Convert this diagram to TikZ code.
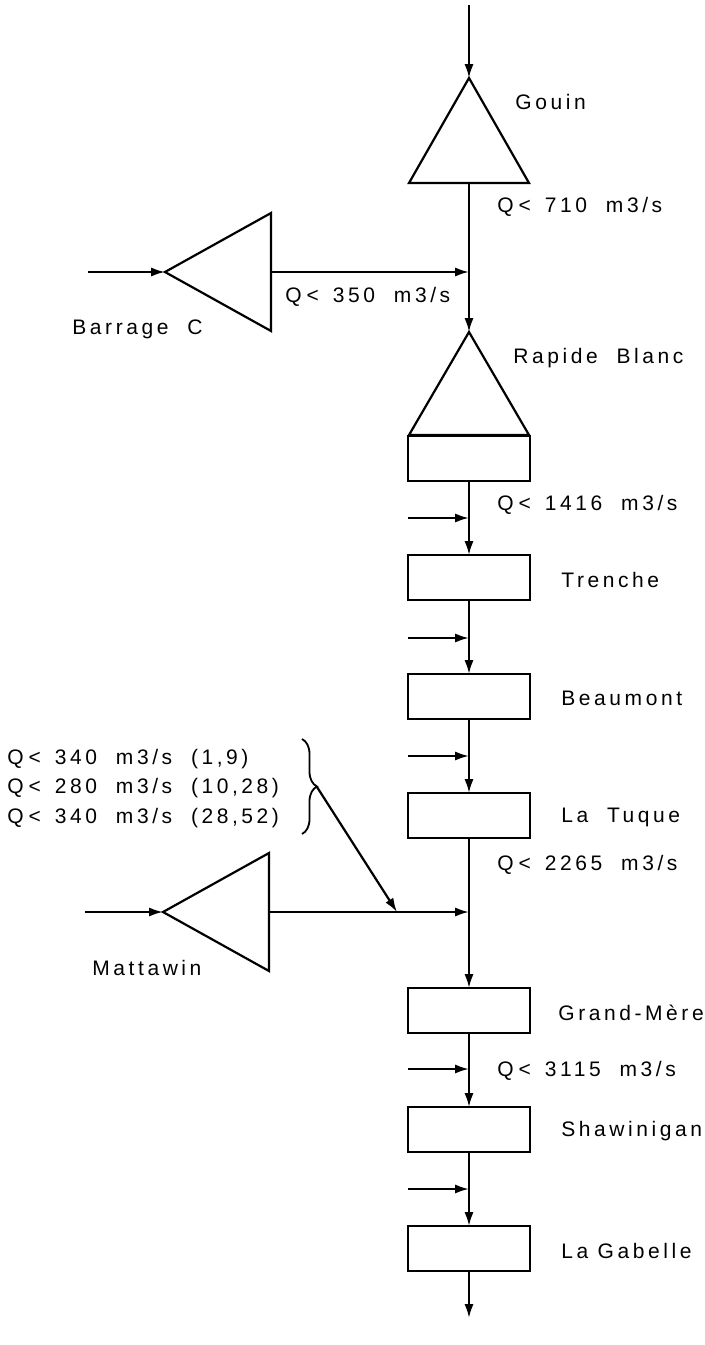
\documentclass[tikz,border=0pt]{standalone}
\usepackage{fontspec}
\setmainfont[LetterSpace=17]{Liberation Sans}
\usetikzlibrary{shapes.geometric, arrows.meta, positioning, decorations.pathreplacing}
\newcommand{\Qmax}{Q\hspace{2.5pt}<\hspace{7pt}}

\begin{document}
\begin{tikzpicture} [
    x=0.5pt, y=-0.5pt,
    node distance=37pt,
    centrale/.style={rectangle, draw=black, line width=1.2pt, minimum width=61pt, minimum height=22.5pt, inner sep=0pt, outer sep=0pt},
    reservoir/.style={isosceles triangle, isosceles triangle stretches, draw=black, line width=1.1pt, minimum width=59pt, minimum height=53pt, inner sep=0pt, outer sep=0pt, anchor=apex},
    nom/.style={font=\fontsize{10.5}{12}\selectfont, inner sep=0pt, anchor=west, yshift=-1pt},
    arrow/.style={-{Latex[length=7pt, width=4.6pt]}, line width=1.1pt}
]
\useasboundingbox (0,0) rectangle (705,1345);

% Define all nodes first
\node[reservoir, shape border rotate=90, minimum width=60pt, minimum height=52.5pt] (gouin) at (469,78) {};
\node[reservoir, shape border rotate=90, minimum width=60pt, minimum height=51.5pt] (rapide) at (469,332) {};
\node[centrale] (blanc) at (469,458.5) {};
\node[centrale, below=of blanc] (trenche) {};
\node[centrale, below=of trenche] (beaumont) {};
\node[centrale, below=of beaumont] (tuque) {};
\node[centrale, below=75pt of tuque] (grandmere) {};
\node[centrale, below=of grandmere] (shawinigan) {};
\node[centrale, below=of shawinigan] (gabelle) {};
\node[reservoir, shape border rotate=180] (barrage) at (165,272) {};
\node[reservoir, shape border rotate=180] (mattawin) at (163,912) {};

% Labels
\node[nom] (lgouin) at (515,100) {Gouin};
\node[nom] (q710) at (497,205) {\Qmax 710\ \ m3/s};
\node[nom] (q350) at (285,295) {\Qmax 350\ \ m3/s};
\node[nom] (lbarrage) at (72,327) {Barrage\ \ C};
\node[nom] (lrapide) at (513,356) {Rapide\ \ Blanc};
\node[nom] (q1416) at (497,503) {\Qmax 1416\ \ m3/s};
\node[nom, right=15.5pt of trenche] (ltrenche) {Trenche};
\node[nom, right=15.5pt of beaumont] (lbeaumont) {Beaumont};
\node[nom, right=15.5pt of tuque] (ltuque) {La\ \ Tuque};
\node[nom] (q2265) at (497,863) {\Qmax 2265\ \ m3/s};
\node[nom] (lmattawin) at (92,966) {Mattawin};
\node[nom, right=14pt of grandmere] (lgrandmere) {Grand-Mère};
\node[nom] (q3115) at (497,1069) {\Qmax 3115\ \ m3/s};
\node[nom, right=15.5pt of shawinigan] (lshawinigan) {Shawinigan};
\node[nom, right=15.5pt of gabelle] (lgabelle) {La\ Gabelle};
\node[nom] (q340a) at (7,757) {\Qmax 340\ \ m3/s\ \ (1,9)};
\node[nom] (q280) at (7,786) {\Qmax 280\ \ m3/s\ \ (10,28)};
\node[nom] (q340b) at (7,816) {\Qmax 340\ \ m3/s\ \ (28,52)};

% Free ends of the arrows
\coordinate (amont) at (469,5);
\coordinate (aval) at (469,1318);
\coordinate (entreeb) at (88,272);
\coordinate (entreem) at (85,912);
\coordinate (in1) at (408,518);
\coordinate (in2) at (408,638);
\coordinate (in3) at (408,756);
\coordinate (in4) at (408,1069);
\coordinate (in5) at (408,1189);
\coordinate (brhaut) at (302,739);
\coordinate (brbas) at (302,834);
\coordinate (brpointe) at (317,787);
\coordinate (cible) at (397,912);

% Draw all arrows
\draw[arrow] (amont) -- (gouin.apex);
\draw[arrow] (gouin.south) -- (rapide.apex);
\draw[arrow] (blanc) -- (trenche);
\draw[arrow] (trenche) -- (beaumont);
\draw[arrow] (beaumont) -- (tuque);
\draw[arrow] (tuque) -- (grandmere);
\draw[arrow] (grandmere) -- (shawinigan);
\draw[arrow] (shawinigan) -- (gabelle);
\draw[arrow] (gabelle) -- (aval);
\draw[arrow] (entreeb) -- (barrage.apex);
\draw[arrow] (entreem) -- (mattawin.apex);
\draw[arrow] (barrage.east) -- (barrage.east -| blanc);
\draw[arrow] (mattawin.east) -- (mattawin.east -| blanc);
\draw[arrow] (in1) -- (in1 -| blanc);
\draw[arrow] (in2) -- (in2 -| blanc);
\draw[arrow] (in3) -- (in3 -| blanc);
\draw[arrow] (in4) -- (in4 -| blanc);
\draw[arrow] (in5) -- (in5 -| blanc);
\draw[line width=0.9pt, decorate, decoration={brace, amplitude=7.5pt}] (brhaut) -- (brbas);
\draw[arrow] (brpointe) -- (cible);

\end{tikzpicture}
\end{document}
